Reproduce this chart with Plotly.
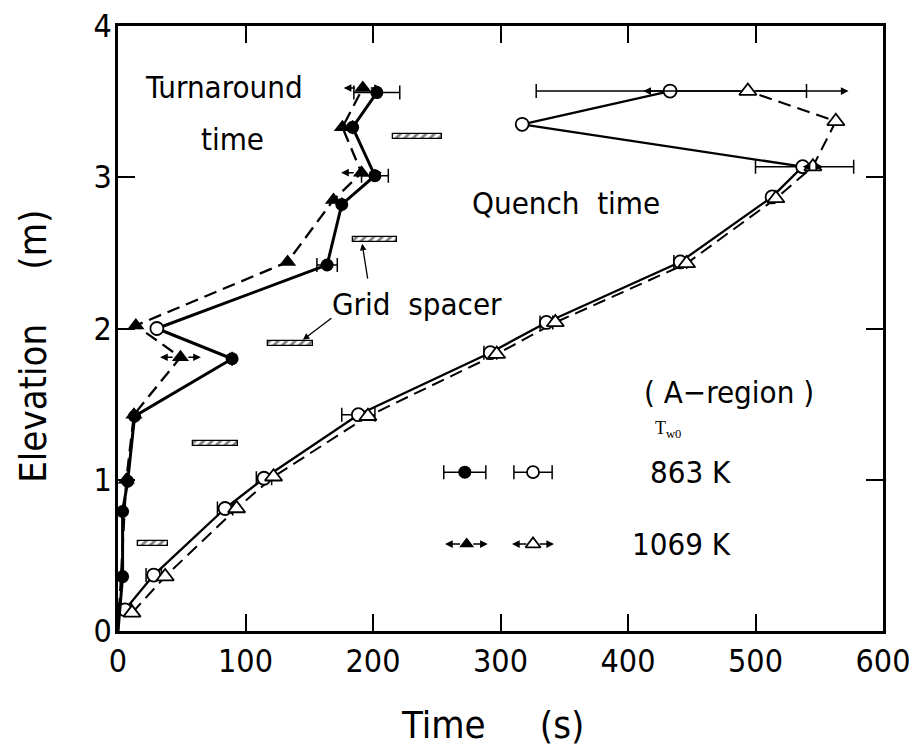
import plotly.graph_objects as go

# ---------------- data ----------------
# Turnaround time (filled symbols)
ta_863_time = [0, 3.6, 3.6, 7.6, 13, 89.5, 30.5, 164, 175.5, 201.5, 184, 203]
ta_863_elev = [0, 0.36, 0.79, 0.99, 1.42, 1.80, 2.00, 2.42, 2.82, 3.01, 3.33, 3.56]
ta_863_err = [0, 0, 0, 0, 0, 0, 0, 8, 0, 10.5, 0, 18]

ta_1069_time = [0, 6.5, 12.5, 49, 14, 133, 169, 191, 176, 192]
ta_1069_elev = [0, 1.00, 1.43, 1.81, 2.02, 2.44, 2.85, 3.03, 3.33, 3.59]
ta_1069_err = [0, 0, 0, 11, 0, 0, 0, 11, 0, 10]

# Quench time (open symbols)
q_863_time = [5.5, 28, 84, 114.5, 188.5, 292, 336, 441, 513, 537, 317, 433]
q_863_elev = [0.14, 0.37, 0.81, 1.01, 1.43, 1.84, 2.04, 2.44, 2.87, 3.07, 3.35, 3.57]
q_863_err_minus = [5, 6, 6, 6, 13, 5, 5, 5, 0, 37, 0, 105]
q_863_err_plus = [5, 6, 6, 6, 13, 5, 5, 5, 0, 40, 0, 107]

q_1069_time = [11, 37, 93, 122, 196, 297, 343, 446, 516, 545, 563, 494]
q_1069_elev = [0.12, 0.36, 0.81, 1.02, 1.42, 1.83, 2.04, 2.43, 2.86, 3.07, 3.37, 3.57]
q_1069_err_minus = [0, 0, 0, 0, 0, 0, 0, 0, 0, 8, 0, 82]
q_1069_err_plus = [0, 0, 0, 0, 0, 0, 0, 0, 0, 8, 0, 79]

# Grid spacer locations
spacer_elev = [0.58, 1.24, 1.90, 2.59, 3.27]
spacer_start = [16, 59, 118, 184, 216]
spacer_end = [39, 94, 153, 219, 254]

# axis ticks
x_ticks = [0, 100, 200, 300, 400, 500, 600]
x_tick_labels = ["0", "100", "200", "300", "400", "500", "600"]
y_ticks = [0, 1, 2, 3, 4]
y_tick_labels = ["0", "1", "2", "3", "4"]

legend_temps = ["863 K", "1069 K"]

# ---------------- styling ----------------
FAM = "Liberation Sans Narrow, Arial Narrow, DejaVu Sans Condensed, Liberation Sans, sans-serif"
BLK = "black"
DASH = "13px,7px"
MS = 13

fig = go.Figure()

# grid spacers (hatched bars)
fig.add_trace(go.Bar(
    orientation="h", y=spacer_elev,
    x=[e - s for s, e in zip(spacer_start, spacer_end)], base=spacer_start,
    width=0.036,
    marker=dict(color="white", line=dict(color=BLK, width=1.3),
                pattern=dict(shape="/", fgcolor=BLK, bgcolor="white", size=6, solidity=0.45)),
    showlegend=False, hoverinfo="skip"))

# ---- Quench 1069 K (dashed, open triangles)
fig.add_trace(go.Scatter(
    x=q_1069_time, y=q_1069_elev, mode="lines",
    line=dict(color=BLK, width=2, dash=DASH), showlegend=False, hoverinfo="skip"))
# ---- Quench 863 K (solid, open circles)
fig.add_trace(go.Scatter(
    x=q_863_time, y=q_863_elev, mode="lines+markers",
    line=dict(color=BLK, width=2.3),
    marker=dict(symbol="circle", size=MS, color="white", line=dict(color=BLK, width=1.8)),
    error_x=dict(type="data", symmetric=False, array=q_863_err_plus, arrayminus=q_863_err_minus,
                 color=BLK, thickness=1.5, width=7),
    showlegend=False, hoverinfo="skip"))
fig.add_trace(go.Scatter(
    x=q_1069_time, y=q_1069_elev, mode="markers",
    marker=dict(symbol="triangle-up", size=MS + 2, color="white", line=dict(color=BLK, width=1.8)),
    showlegend=False, hoverinfo="skip"))

# ---- Turnaround 1069 K (dashed, filled triangles)
fig.add_trace(go.Scatter(
    x=ta_1069_time, y=ta_1069_elev, mode="lines",
    line=dict(color=BLK, width=2.3, dash=DASH), showlegend=False, hoverinfo="skip"))
fig.add_trace(go.Scatter(
    x=ta_1069_time[1:], y=ta_1069_elev[1:], mode="markers",
    marker=dict(symbol="triangle-up", size=MS + 2, color=BLK),
    showlegend=False, hoverinfo="skip"))
# ---- Turnaround 863 K (solid, filled circles)
fig.add_trace(go.Scatter(
    x=ta_863_time, y=ta_863_elev, mode="lines",
    line=dict(color=BLK, width=3), showlegend=False, hoverinfo="skip"))
fig.add_trace(go.Scatter(
    x=ta_863_time[1:], y=ta_863_elev[1:], mode="markers",
    marker=dict(symbol="circle", size=MS, color=BLK),
    error_x=dict(type="data", array=ta_863_err[1:], color=BLK, thickness=1.5, width=7),
    showlegend=False, hoverinfo="skip"))
# the open circle in the turnaround series (at 2.0 m)
i_open = ta_863_elev.index(2.00)
fig.add_trace(go.Scatter(
    x=[ta_863_time[i_open]], y=[ta_863_elev[i_open]], mode="markers",
    marker=dict(symbol="circle", size=MS, color="white", line=dict(color=BLK, width=1.8)),
    showlegend=False, hoverinfo="skip"))

# arrow-type error bars for triangle symbols
R = 5.0  # half marker width in time units


def arrow(x_from, x_to, y):
    fig.add_annotation(x=x_to, y=y, ax=x_from, ay=y, xref="x", yref="y", axref="x", ayref="y",
                       text="", showarrow=True, arrowhead=2, arrowsize=1.1, arrowwidth=1.4,
                       arrowcolor=BLK, standoff=0, startstandoff=0)


for t, e, er in zip(ta_1069_time, ta_1069_elev, ta_1069_err):
    if er > 0:
        arrow(t - R, t - R - er, e)
        arrow(t + R, t + R + er, e)
for t, e, em, ep in zip(q_1069_time, q_1069_elev, q_1069_err_minus, q_1069_err_plus):
    if em > 0:
        arrow(t - R, t - em, e)
    if ep > 0:
        arrow(t + R, t + ep, e)

# ---------------- legend (drawn inside plot) ----------------
leg_y = [1.05, 0.575]
fig.add_trace(go.Scatter(
    x=[272], y=[leg_y[0]], mode="markers",
    marker=dict(symbol="circle", size=MS, color=BLK),
    error_x=dict(type="data", array=[16.5], color=BLK, thickness=1.5, width=7),
    showlegend=False, hoverinfo="skip"))
fig.add_trace(go.Scatter(
    x=[325.5], y=[leg_y[0]], mode="markers",
    marker=dict(symbol="circle", size=MS - 1, color="white", line=dict(color=BLK, width=1.8)),
    error_x=dict(type="data", array=[15], color=BLK, thickness=1.5, width=7),
    showlegend=False, hoverinfo="skip"))
fig.add_trace(go.Scatter(
    x=[273.5], y=[leg_y[1]], mode="markers",
    marker=dict(symbol="triangle-up", size=MS, color=BLK),
    showlegend=False, hoverinfo="skip"))
fig.add_trace(go.Scatter(
    x=[325.5], y=[leg_y[1]], mode="markers",
    marker=dict(symbol="triangle-up", size=MS, color="white", line=dict(color=BLK, width=1.8)),
    showlegend=False, hoverinfo="skip"))
arrow(273.5 - 4, 256.5, leg_y[1]); arrow(273.5 + 4, 290, leg_y[1])
arrow(325.5 - 4, 309, leg_y[1]); arrow(325.5 + 4, 342, leg_y[1])

TF = dict(family=FAM, size=31, color=BLK)
for txt, y in zip(legend_temps, leg_y):
    fig.add_annotation(x=482.5, y=y, xref="x", yref="y", text=txt, showarrow=False,
                       xanchor="right", yanchor="middle", font=TF)
fig.add_annotation(x=431, y=1.33, xref="x", yref="y", text="T<sub>w0</sub>", showarrow=False,
                   font=dict(family="Liberation Serif, serif", size=18, color=BLK))
fig.add_annotation(x=479, y=1.58, xref="x", yref="y", text="( A\u2212region )", showarrow=False, font=TF)

# ---------------- text labels ----------------
fig.add_annotation(x=83, y=3.60, xref="x", yref="y", text="Turnaround", showarrow=False, font=TF)
fig.add_annotation(x=89.5, y=3.25, xref="x", yref="y", text="time", showarrow=False, font=TF)
fig.add_annotation(x=351.5, y=2.83, xref="x", yref="y", text="Quench\u00a0 time", showarrow=False, font=TF)
fig.add_annotation(x=234.5, y=2.16, xref="x", yref="y", text="Grid\u00a0 spacer", showarrow=False, font=TF)
# pointer arrows from label to spacers
fig.add_annotation(x=145, y=1.925, ax=168.5, ay=2.075, xref="x", yref="y", axref="x", ayref="y",
                   text="", showarrow=True, arrowhead=2, arrowsize=1, arrowwidth=1.3, arrowcolor=BLK)
fig.add_annotation(x=191.5, y=2.56, ax=196, ay=2.32, xref="x", yref="y", axref="x", ayref="y",
                   text="", showarrow=True, arrowhead=2, arrowsize=1, arrowwidth=1.3, arrowcolor=BLK)

# axis titles
TT = dict(family=FAM, size=38, color=BLK)
fig.add_annotation(x=0.49, y=-0.156, xref="paper", yref="paper",
                   text="Time\u00a0\u00a0\u00a0\u00a0\u00a0(s)", showarrow=False, font=TT,
                   xanchor="center", yanchor="middle")
fig.add_annotation(x=-0.111, y=0.47, xref="paper", yref="paper", textangle=-90,
                   text="Elevation\u00a0\u00a0\u00a0\u00a0\u00a0(m)", showarrow=False, font=TT,
                   xanchor="center", yanchor="middle")

axis_common = dict(showline=True, linecolor=BLK, linewidth=2.5, mirror="ticks",
                   ticks="inside", ticklen=17, tickwidth=2, tickcolor=BLK,
                   showgrid=False, zeroline=False, automargin=False,
                   tickfont=dict(family=FAM, size=32, color=BLK))
fig.update_xaxes(range=[0, 600], tickvals=x_ticks, ticktext=x_tick_labels,
                 ticklabelstandoff=0, **axis_common)
fig.update_yaxes(range=[0, 4], tickvals=y_ticks, ticktext=y_tick_labels,
                 ticklabelstandoff=-3, **axis_common)

fig.update_layout(width=922, height=751, margin=dict(l=118, r=39, t=26, b=120),
                  paper_bgcolor="white", plot_bgcolor="white", showlegend=False,
                  bargap=0)

fig.write_html("out.html")
